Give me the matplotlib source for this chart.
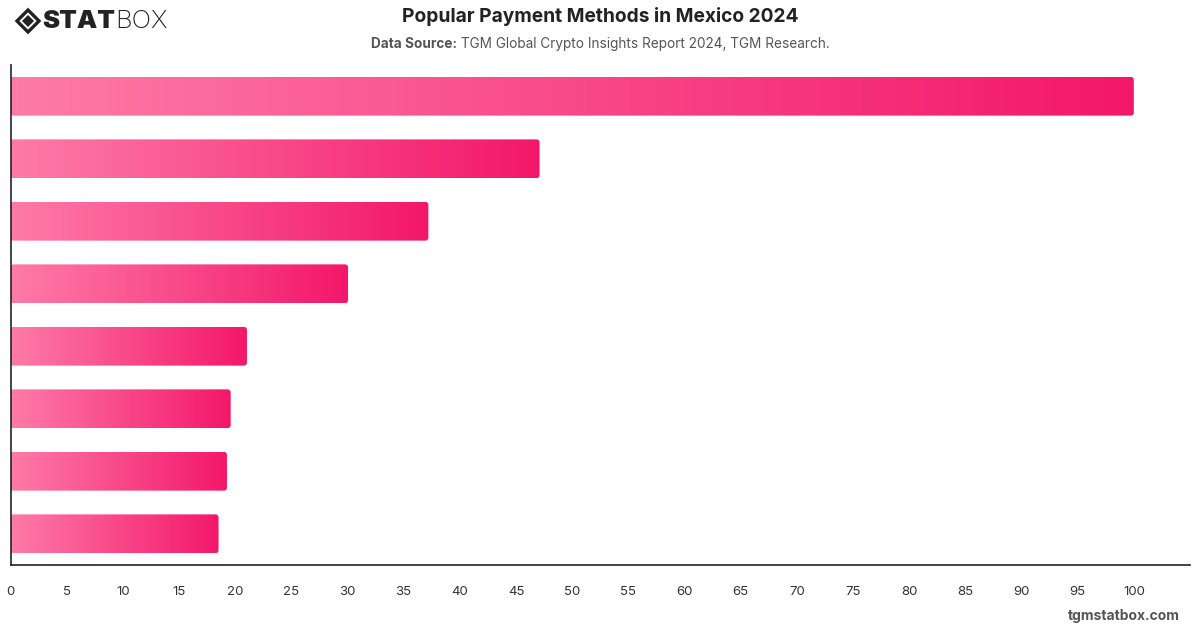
import matplotlib
matplotlib.use("Agg")
import matplotlib.pyplot as plt
import numpy as np
from matplotlib.patches import FancyBboxPatch, Polygon
from matplotlib.colors import LinearSegmentedColormap
from matplotlib.transforms import Affine2D

# ---- data (category labels are not shown in the reference) ----
ranks = [1, 2, 3, 4, 5, 6, 7, 8]
shares = [100.0, 47.1, 37.2, 30.05, 21.05, 19.6, 19.27, 18.52]
x_ticks = list(range(0, 101, 5))

title = "Popular Payment Methods in Mexico 2024"
source_bold = "Data Source:"
source_rest = " TGM Global Crypto Insights Report 2024, TGM Research."
watermark = "tgmstatbox.com"

FONT = ["Inter", "DejaVu Sans"]
plt.rcParams["font.family"] = FONT

W, H = 1200, 628
fig = plt.figure(figsize=(W / 100, H / 100), dpi=100)
fig.patch.set_facecolor("white")

ax_left, ax_right, ax_top, ax_bottom = 10.5, 1190, 65, 565
ax = fig.add_axes([ax_left / W, 1 - ax_bottom / H, (ax_right - ax_left) / W, (ax_bottom - ax_top) / H])

xmax = 105.0
n = len(shares)
ax.set_xlim(0, xmax)
ax.set_ylim(n - 0.5, -0.5)

cmap = LinearSegmentedColormap.from_list("pinkgrad", ["#FE7BA7", "#F3176A"])
grad = np.linspace(0, 1, 256).reshape(1, -1)

bar_h = 0.62
px_per_x = (ax_right - ax_left) / xmax
px_per_y = (ax_bottom - ax_top) / n
r_px = 3.0
rx = r_px / px_per_x
aspect = (r_px / px_per_y) / rx

for i, v in enumerate(shares):
    y0 = i - bar_h / 2
    patch = FancyBboxPatch((0, y0), v, bar_h,
                           boxstyle=f"round,pad=0,rounding_size={rx}",
                           mutation_aspect=aspect,
                           facecolor="none", edgecolor="none", zorder=2)
    ax.add_patch(patch)
    im = ax.imshow(grad, cmap=cmap, aspect="auto", extent=(0, v, y0 + bar_h, y0),
                   interpolation="bilinear", zorder=2)
    im.set_clip_path(patch)

ax.set_xlim(0, xmax)
ax.set_ylim(n - 0.5, -0.5)

for s in ["top", "right"]:
    ax.spines[s].set_visible(False)
for s in ["left", "bottom"]:
    ax.spines[s].set_color("#222222")
    ax.spines[s].set_linewidth(1.2)

ax.set_yticks([])
ax.set_xticks(x_ticks)
ax.set_xticklabels([str(t) for t in x_ticks])
ax.tick_params(axis="x", length=0, pad=15, labelsize=9.5, labelcolor="#333333")
for lbl in ax.get_xticklabels():
    if lbl.get_text() == "0":
        lbl.set_x(0.2)

# ---- titles ----
fig.text(0.5, 1 - 17 / H, title, ha="center", va="center", fontsize=13.8,
         fontweight="bold", color="#222222")

fig.canvas.draw()
renderer = fig.canvas.get_renderer()
t1 = fig.text(0, 1 - 44 / H, source_bold, ha="left", va="center", fontsize=9.8,
              fontweight="bold", color="#555555")
t2 = fig.text(0, 1 - 44 / H, source_rest, ha="left", va="center", fontsize=9.8,
              color="#555555")
w1 = t1.get_window_extent(renderer).width
w2 = t2.get_window_extent(renderer).width
start = (W - (w1 + w2)) / 2
t1.set_x(start / W)
t2.set_x((start + w1) / W)

# ---- logo ----
cx, cy, s = 28, 21, 11
tr = Affine2D().scale(1, -1).translate(0, H) + Affine2D().scale(1 / W, 1 / H) + fig.transFigure
outer = Polygon([[cx - s, cy], [cx, cy - s], [cx + s, cy], [cx, cy + s]], closed=True,
                fill=False, edgecolor="#222222", linewidth=2.4)
s2 = 6
inner = Polygon([[cx - s2, cy], [cx, cy - s2], [cx + s2, cy], [cx, cy + s2]], closed=True,
                facecolor="#222222", edgecolor="none")
outer.set_transform(tr)
inner.set_transform(tr)
fig.patches.extend([outer, inner])

ts = fig.text(42 / W, 1 - 21 / H, "STAT", ha="left", va="center", fontsize=18.5,
              fontweight="black", color="#222222")
fig.canvas.draw()
wst = ts.get_window_extent(renderer).width
fig.text((42 + wst) / W, 1 - 21 / H, "BOX", ha="left", va="center", fontsize=18.5,
         fontweight="light", color="#222222")

# ---- watermark ----
fig.text(1180 / W, 1 - 616 / H, watermark, ha="right", va="center", fontsize=10,
         fontweight="bold", color="#555555")

fig.savefig("out.png", dpi=100, facecolor="white")
